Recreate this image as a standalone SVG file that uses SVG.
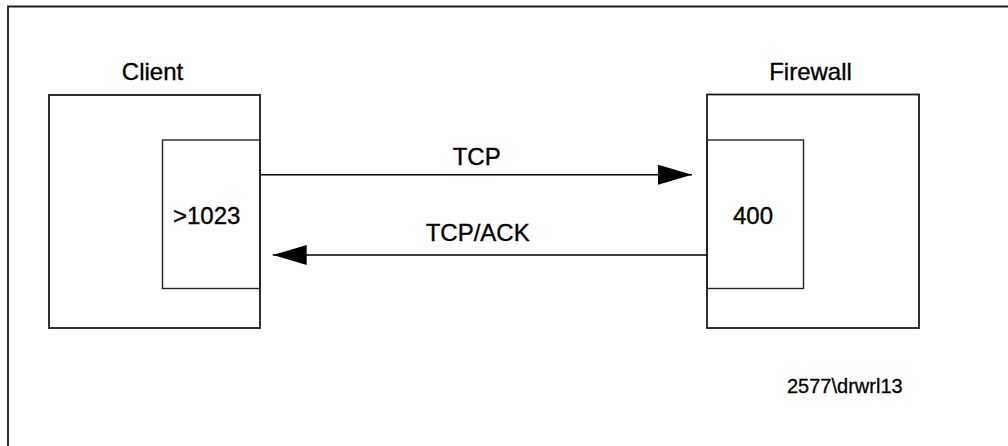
<svg xmlns="http://www.w3.org/2000/svg" width="1008" height="446" viewBox="0 0 1008 446">
<style>
.box{fill:none;stroke:#1a1a1a;stroke-width:1.8}
.inner{fill:none;stroke:#222;stroke-width:1.4}
.frame{fill:none;stroke:#1a1a1a;stroke-width:1.8}
.t{font-family:"Liberation Sans",Arial,sans-serif;font-size:24px;fill:#000;stroke:#000;stroke-width:0.35}
.s{font-family:"Liberation Sans",Arial,sans-serif;font-size:20px;fill:#000;stroke:#000;stroke-width:0.3}
.c{stroke:#000;stroke-width:1.4;fill:none}
</style>
<defs>
<marker id="ah" viewBox="0 0 34 20" refX="34" refY="10" markerWidth="34" markerHeight="20" markerUnits="userSpaceOnUse" orient="auto">
<path d="M0,0 L34,10 L0,20 Z" fill="#000"/>
</marker>
</defs>
<rect width="1008" height="446" fill="#fff"/>
<path class="frame" d="M8,446 V6.5 H1008"/>
<g id="client">
<rect class="box" x="49" y="95" width="211" height="233"/>
<rect class="inner" x="162.5" y="140" width="97.5" height="148.5"/>
<text class="t" x="152.5" y="80" text-anchor="middle">Client</text>
<text class="t" x="173" y="224">&gt;1023</text>
</g>
<g id="firewall">
<rect class="box" x="707" y="94.5" width="212" height="233.5"/>
<rect class="inner" x="707" y="140" width="96.5" height="148.5"/>
<text class="t" x="810.5" y="80" text-anchor="middle">Firewall</text>
<text class="t" x="733" y="224">400</text>
</g>
<g id="connectors">
<line class="c" x1="260" y1="174.7" x2="692" y2="174.7" marker-end="url(#ah)"/>
<text class="t" x="476.7" y="165" text-anchor="middle">TCP</text>
<line class="c" x1="707" y1="255" x2="272.7" y2="255" marker-end="url(#ah)"/>
<text class="t" x="477.7" y="241" text-anchor="middle">TCP/ACK</text>
</g>
<text class="s" x="787" y="392.7">2577\drwrl13</text>
</svg>
